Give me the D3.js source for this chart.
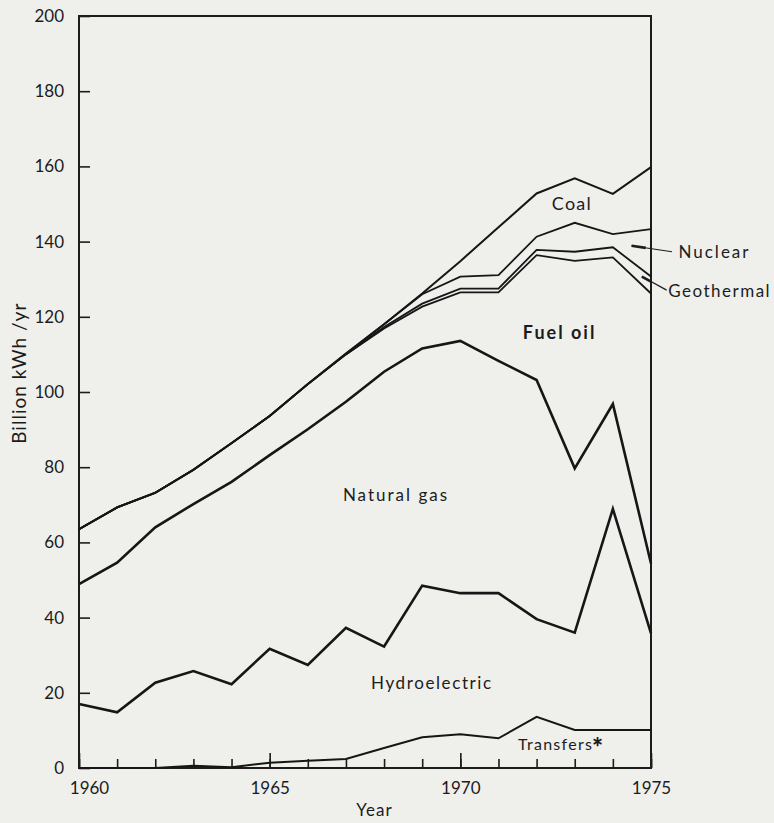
<!DOCTYPE html>
<html>
<head>
<meta charset="utf-8">
<script src="https://cdn.jsdelivr.net/npm/d3@7"></script>
<style>
  body { margin: 0; background: #efefec; }
  svg text { font-family: Lato, 'Open Sans', sans-serif; fill: #1c1c1c; }
</style>
</head>
<body>
<div id="chart"></div>
<script>
const margin = { top: 16, right: 123, bottom: 55, left: 79 }
const width = 774 - margin.left - margin.right
const height = 823 - margin.top - margin.bottom

// years on the x axis
const years = [1960, 1961, 1962, 1963, 1964, 1965, 1966, 1967, 1968, 1969, 1970, 1971, 1972, 1973, 1974, 1975]
const majorYears = [1960, 1965, 1970, 1975]
const yTicks = [0, 20, 40, 60, 80, 100, 120, 140, 160, 180, 200]

// cumulative totals (top edge of each band), billion kWh/yr
const transfersTop = [0, 0, 0, 0.6, 0.2, 1.4, 1.9, 2.4, 5.3, 8.2, 9.0, 7.9, 13.6, 10.1, 10.1, 10.1]
const hydroTop = [17.0, 14.8, 22.7, 25.8, 22.3, 31.7, 27.4, 37.3, 32.3, 48.5, 46.5, 46.5, 39.6, 36.0, 68.9, 35.8]
const gasTop = [48.9, 54.6, 64.0, 70.2, 76.1, 83.2, 90.1, 97.4, 105.4, 111.6, 113.6, 108.3, 103.2, 79.7, 96.8, 54.4]
const fuelOilTop = [63.5, 69.3, 73.2, 79.3, 86.4, 93.6, 102.1, 110.0, 116.9, 122.7, 126.5, 126.5, 136.4, 134.9, 135.8, 126.2]
const geothermalTop = [63.5, 69.3, 73.2, 79.3, 86.4, 93.6, 102.1, 110.0, 117.3, 123.5, 127.5, 127.5, 137.8, 137.3, 138.5, 130.7]
const nuclearTop = [63.5, 69.3, 73.2, 79.3, 86.4, 93.6, 102.1, 110.2, 118.0, 126.0, 130.7, 131.1, 141.3, 145.0, 142.0, 143.3]
const coalTop = [63.5, 69.3, 73.2, 79.3, 86.4, 93.6, 102.1, 110.2, 118.0, 126.2, 134.8, 143.8, 152.8, 156.8, 152.7, 159.8]

const series = [
  { name: 'transfers', values: transfersTop, w: 2 },
  { name: 'hydro', values: hydroTop, w: 2.6 },
  { name: 'gas', values: gasTop, w: 2.6 },
  { name: 'fuel oil', values: fuelOilTop, w: 1.8 },
  { name: 'geothermal', values: geothermalTop, w: 1.8 },
  { name: 'nuclear', values: nuclearTop, w: 1.8 },
  { name: 'coal', values: coalTop, w: 2 }
]

// band labels, placed in data units (year, value) at the text baseline
const labels = [
  { text: 'Coal', year: 1972.4, value: 148.4, size: 18, weight: 400, spacing: 1.2 },
  { text: 'Nuclear', year: 1975.72, value: 135.6, size: 17, weight: 400, spacing: 2 },
  { text: 'Geothermal', year: 1975.45, value: 125.3, size: 17, weight: 400, spacing: 1.5 },
  { text: 'Fuel oil', year: 1971.64, value: 114.1, size: 18, weight: 700, spacing: 2 },
  { text: 'Natural gas', year: 1966.92, value: 71.0, size: 17, weight: 400, spacing: 2 },
  { text: 'Hydroelectric', year: 1967.66, value: 21.0, size: 17, weight: 400, spacing: 1.6 },
  { text: 'Transfers', year: 1971.51, value: 4.8, size: 16, weight: 400, spacing: 1.3 }
]

// leader lines from the right-hand labels to their bands
const leaders = [
  { from: [1975.55, 137.3], to: [1974.49, 138.9] },
  { from: [1975.41, 127.1], to: [1974.76, 130.7] }
]

const svg = d3.select('#chart')
  .append('svg')
  .attr('width', width + margin.left + margin.right)
  .attr('height', height + margin.top + margin.bottom)
  .append('g')
  .attr('transform', 'translate(' + margin.left + ',' + margin.top + ')')

const xPositionScale = d3.scaleLinear().domain([1960, 1975]).range([0, width])
const yPositionScale = d3.scaleLinear().domain([0, 200]).range([height, 0])

// y axis, ticks pointing into the plot
const yAxis = d3.axisLeft(yPositionScale)
  .tickValues(yTicks)
  .tickSize(-11)
  .tickPadding(15)
  .tickFormat(d3.format('d'))

svg.append('g')
  .attr('class', 'axis y-axis')
  .call(yAxis)

// minor year ticks
svg.append('g')
  .attr('class', 'axis x-axis-minor')
  .attr('transform', 'translate(0,' + height + ')')
  .call(d3.axisBottom(xPositionScale).tickValues(years).tickSize(-9).tickFormat(''))

// major year ticks with labels
svg.append('g')
  .attr('class', 'axis x-axis')
  .attr('transform', 'translate(0,' + height + ')')
  .call(d3.axisBottom(xPositionScale).tickValues(majorYears).tickSize(-15).tickPadding(14).tickFormat(d3.format('d')))

svg.selectAll('.axis .domain').remove()
svg.selectAll('.axis line').attr('stroke', '#1c1c1c').attr('stroke-width', 1.6)
svg.selectAll('.axis text')
  .attr('font-size', 17)
  .attr('font-family', 'Lato, sans-serif')
  .attr('fill', '#1c1c1c')

svg.select('.x-axis').selectAll('text')
  .attr('dx', d => d === 1960 ? 10 : 0)

// frame
svg.append('rect')
  .attr('x', 0)
  .attr('y', 0)
  .attr('width', width)
  .attr('height', height)
  .attr('fill', 'none')
  .attr('stroke', '#1c1c1c')
  .attr('stroke-width', 2)

const line = d3.line()
  .x((d, i) => xPositionScale(years[i]))
  .y(d => yPositionScale(d))

svg.selectAll('.band-line')
  .data(series)
  .enter()
  .append('path')
  .attr('class', 'band-line')
  .attr('d', d => line(d.values))
  .attr('fill', 'none')
  .attr('stroke', '#161616')
  .attr('stroke-width', d => d.w)
  .attr('stroke-linejoin', 'miter')

svg.selectAll('.band-label')
  .data(labels)
  .enter()
  .append('text')
  .attr('class', 'band-label')
  .attr('x', d => xPositionScale(d.year))
  .attr('y', d => yPositionScale(d.value))
  .attr('font-size', d => d.size)
  .attr('font-weight', d => d.weight)
  .attr('letter-spacing', d => d.spacing)
  .text(d => d.text)

// asterisk after Transfers
svg.append('text')
  .attr('x', xPositionScale(1973.45))
  .attr('y', yPositionScale(3.0))
  .attr('font-size', 26)
  .attr('font-weight', 900)
  .text('*')

svg.selectAll('.leader')
  .data(leaders)
  .enter()
  .append('line')
  .attr('class', 'leader')
  .attr('x1', d => xPositionScale(d.from[0]))
  .attr('y1', d => yPositionScale(d.from[1]))
  .attr('x2', d => xPositionScale(d.to[0]))
  .attr('y2', d => yPositionScale(d.to[1]))
  .attr('stroke', '#1c1c1c')
  .attr('stroke-width', 1.2)

// thicker arrow-ish end on each leader
svg.selectAll('.leader-tip')
  .data(leaders)
  .enter()
  .append('line')
  .attr('class', 'leader-tip')
  .attr('x1', d => xPositionScale(d.to[0]))
  .attr('y1', d => yPositionScale(d.to[1]))
  .attr('x2', d => xPositionScale(d.to[0] + (d.from[0] - d.to[0]) * 0.35))
  .attr('y2', d => yPositionScale(d.to[1] + (d.from[1] - d.to[1]) * 0.35))
  .attr('stroke', '#1c1c1c')
  .attr('stroke-width', 2.6)

// axis titles
svg.append('text')
  .attr('text-anchor', 'middle')
  .attr('font-size', 17)
  .attr('letter-spacing', 1)
  .attr('x', xPositionScale(1967.75))
  .attr('y', height + 48)
  .text('Year')

svg.append('text')
  .attr('text-anchor', 'middle')
  .attr('font-size', 19)
  .attr('letter-spacing', 1)
  .attr('transform', 'translate(' + (-53) + ',' + yPositionScale(105) + ') rotate(-90)')
  .text('Billion kWh /yr')
</script>
</body>
</html>
